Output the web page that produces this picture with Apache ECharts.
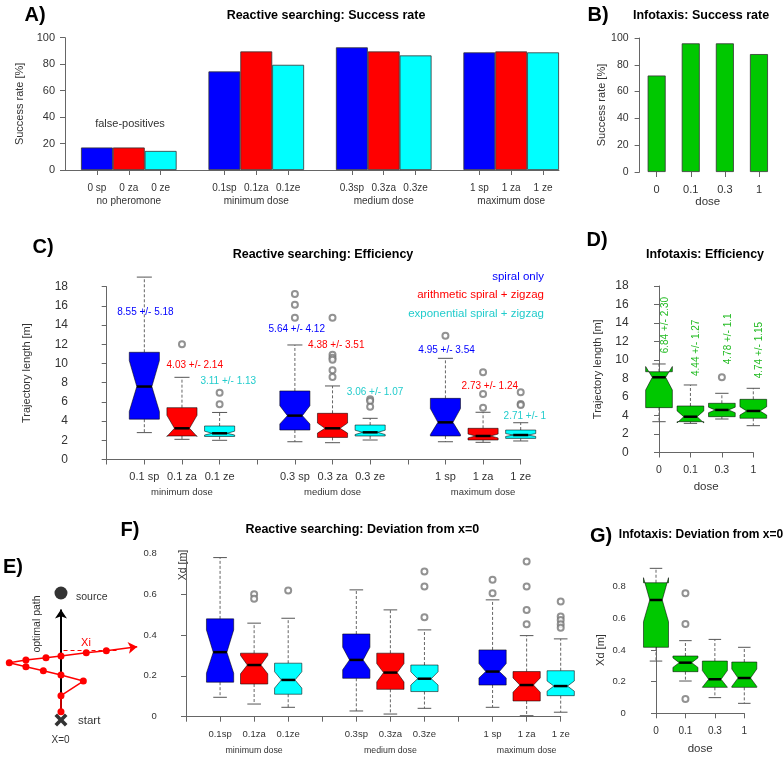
<!DOCTYPE html>
<html><head><meta charset="utf-8">
<script src="https://cdn.jsdelivr.net/npm/echarts@6/dist/echarts.min.js"></script>
<style>html,body{margin:0;padding:0;background:#fff}#c{width:784px;height:759px}</style>
</head><body><div id="c"></div>
<script>
// ================= DATA =================
// Panel A: success rate (reactive searching)
const successCats = ['0 sp','0 za','0 ze','','0.1sp','0.1za','0.1ze','','0.3sp','0.3za','0.3ze','','1 sp','1 za','1 ze'];
const successGroups = ['no pheromone','minimum dose','medium dose','maximum dose'];
const successSp = [17, 74.5, 92.7, 88.9];
const successZa = [17, 89.6, 89.6, 89.6];
const successZe = [14.4, 79.5, 86.6, 88.9];
// Panel B: infotaxis success rate
const infoDose = ['0','0.1','0.3','1'];
const infoSuccess = [72, 96, 96, 88];
// Panel C: efficiency boxes [low, q1, notchLo, median, notchHi, q3, high]
const effCats = ['','0.1 sp','0.1 za','0.1 ze','','0.3 sp','0.3 za','0.3 ze','','1 sp','1 za','1 ze'];
const doseGroups = ['minimum dose','medium dose','maximum dose'];
const effSp = [[2.8,4.2,5.0,7.6,10.3,11.17,19.0],[1.85,3.07,3.7,4.57,5.6,7.14,11.93],[1.85,2.45,2.6,3.87,5.3,6.37,10.54]];
const effZa = [[2.1,2.45,2.4,3.25,4.6,5.4,8.56],[1.75,2.3,2.75,3.25,3.8,4.81,7.66],[1.79,2.03,2.25,2.45,2.65,3.25,4.92]];
const effZe = [[2.0,2.4,2.55,2.73,2.95,3.49,4.9],[2.03,2.45,2.6,2.83,3.05,3.59,4.29],[1.93,2.2,2.4,2.55,2.7,3.07,3.83]];
const effOutSp = [[],[17.24,16.13,14.77],[18.8,12.9]];
const effOutZa = [[12.0],[14.77,10.9,10.6,10.4,9.3,8.6],[9.08,6.82,5.4]];
const effOutZe = [[6.95,5.75],[6.27,6.1,5.5],[7.0,5.78,5.68]];
const effTextSp = ['8.55 +/- 5.18','5.64 +/- 4.12','4.95 +/- 3.54'];
const effTextZa = ['4.03 +/- 2.14','4.38 +/- 3.51','2.73 +/- 1.24'];
const effTextZe = ['3.11 +/- 1.13','3.06 +/- 1.07','2.71 +/- 1'];
const effTextAtSp = [[1.03,15.3],[5.05,13.56],[9.03,11.33]];
const effTextAtZa = [[2.34,9.81],[6.1,11.9],[10.18,7.66]];
const effTextAtZe = [[3.23,8.18],[7.13,6.96],[11.11,4.46]];
const legendTexts = ['spiral only','arithmetic spiral + zigzag','exponential spiral + zigzag'];
// Panel D: infotaxis efficiency
const infoEff = [[3.33,4.85,6.76,8.13,9.3,8.73,9.57],[3.15,3.33,3.2,3.87,4.5,5.03,7.3],[3.62,3.87,4.3,4.6,4.9,5.32,6.4],[2.9,3.7,4.05,4.49,4.95,5.75,6.94]];
const infoEffOut = [[],[],[8.13],[]];
const infoEffText = ['6.84 +/- 2.30','4.44 +/- 1.27','4.78 +/- 1.1','4.74 +/- 1.15'];
const infoEffTextAt = [10.72, 8.27, 9.54, 8.02];
// Panel F: deviation (reactive)
const devCats = ['','0.1sp','0.1za','0.1ze','','0.3sp','0.3za','0.3ze','','1 sp','1 za','1 ze'];
const devSp = [[0.095,0.169,0.213,0.316,0.425,0.479,0.779],[0.028,0.188,0.23,0.278,0.34,0.405,0.621],[0.046,0.155,0.19,0.221,0.26,0.327,0.572]];
const devZa = [[0.062,0.160,0.21,0.253,0.30,0.311,0.458],[0.013,0.134,0.17,0.216,0.26,0.311,0.523],[0.005,0.077,0.12,0.155,0.19,0.221,0.397]];
const devZe = [[0.046,0.11,0.14,0.18,0.22,0.262,0.482],[0.041,0.123,0.155,0.186,0.22,0.253,0.425],[0.022,0.103,0.125,0.15,0.175,0.225,0.381]];
const devOutSp = [[],[0.809,0.82],[0.67,0.605]];
const devOutZa = [[0.6,0.577],[],[0.76,0.637,0.523,0.453]];
const devOutZe = [[0.618],[0.711,0.637,0.487],[0.564,0.49,0.474,0.453,0.436]];
// Panel G: deviation (infotaxis)
const infoDev = [[0.33,0.417,0.579,0.716,0.857,0.825,0.916],[0.204,0.263,0.29,0.32,0.35,0.362,0.459],[0.099,0.164,0.165,0.215,0.27,0.33,0.467],[0.063,0.164,0.17,0.223,0.28,0.324,0.417]];
const infoDevOut = [[],[0.758,0.564,0.09],[],[]];
// Panel E: schematic path (units: source distance = 1)
const pathX = [0, 0, 0.176, 0, -0.139, -0.276, -0.407, -0.276, -0.118, 0, 0.199, 0.357];
const pathY = [0.065, 0.191, 0.307, 0.354, 0.388, 0.42, 0.451, 0.472, 0.49, 0.504, 0.53, 0.546];
const arrowTip = [0.6, 0.577];
const sourcePt = [0, 1];
const startPt = [0, 0];
const xiLevel = 0.546;

// ================= STYLE =================
const FONT = "'Liberation Sans', Arial, Helvetica, sans-serif";
const BLUE = '#0000FF', RED = '#FF0000', CYAN = '#00FFFF', GREEN = '#00C800';
const AX = '#666', TX = '#333';
const COLS = [BLUE, RED, CYAN];

function boxRender(wex) {
  return function (params, api) {
    const x = api.value(0);
    const low = api.value(1), q1 = api.value(2), nlo = api.value(3), med = api.value(4),
          nhi = api.value(5), q3 = api.value(6), high = api.value(7);
    const px = api.coord([x, med])[0];
    const w = api.size([1, 0])[0] * wex / 2;
    const Y = v => api.coord([x, v])[1];
    const col = api.visual('color');
    const dash = { stroke: '#666', lineWidth: 1, lineDash: [3, 2], fill: null };
    const solid = { stroke: '#555', lineWidth: 1, fill: null };
    return { type: 'group', children: [
      { type: 'line', shape: { x1: px, y1: Y(q3), x2: px, y2: Y(high) }, style: dash },
      { type: 'line', shape: { x1: px, y1: Y(q1), x2: px, y2: Y(low) }, style: dash },
      { type: 'line', shape: { x1: px - w / 2, y1: Y(high), x2: px + w / 2, y2: Y(high) }, style: solid },
      { type: 'line', shape: { x1: px - w / 2, y1: Y(low), x2: px + w / 2, y2: Y(low) }, style: solid },
      { type: 'polygon', shape: { points: [
          [px - w, Y(q1)], [px + w, Y(q1)], [px + w, Y(nlo)], [px + w / 2, Y(med)], [px + w, Y(nhi)],
          [px + w, Y(q3)], [px - w, Y(q3)], [px - w, Y(nhi)], [px - w / 2, Y(med)], [px - w, Y(nlo)] ] },
        style: { fill: col, stroke: 'rgba(0,0,0,0.55)', lineWidth: 1 } },
      { type: 'line', shape: { x1: px - w / 2, y1: Y(med), x2: px + w / 2, y2: Y(med) }, style: { stroke: '#000', lineWidth: 2.5 } }
    ] };
  };
}

function groupedBoxes(lists, startOffset) {
  const out = [];
  lists.forEach((arr, k) => arr.forEach((s, g) => out.push({ value: [4 * g + startOffset + k].concat(s), itemStyle: { color: COLS[k] } })));
  return out;
}
function groupedOutliers(lists, startOffset) {
  const out = [];
  lists.forEach((arr, k) => arr.forEach((vals, g) => vals.forEach(v => out.push([4 * g + startOffset + k, v]))));
  return out;
}
function yAx(grid, min, max, interval, offset, fs, margin, name, nameGap) {
  return {
    gridIndex: grid, type: 'value', min: min, max: max, interval: interval, offset: offset,
    axisLine: { show: true, lineStyle: { color: AX } },
    axisTick: { show: true, length: 5, lineStyle: { color: AX } },
    axisLabel: { fontSize: fs, color: TX, margin: margin, fontFamily: FONT },
    splitLine: { show: false },
    name: name || '', nameLocation: 'middle', nameGap: nameGap || 30,
    nameTextStyle: { fontSize: 11, color: TX, fontFamily: FONT }
  };
}
function xValAx(grid, max, cats, fs, margin, offset) {
  return {
    gridIndex: grid, type: 'value', min: 0, max: max, interval: 1, offset: offset,
    axisLine: { show: true, lineStyle: { color: AX } },
    axisTick: { show: true, length: 5, lineStyle: { color: AX } },
    splitLine: { show: false },
    axisLabel: { margin: margin, showMinLabel: true, showMaxLabel: true, hideOverlap: false,
      fontSize: fs, color: TX, fontFamily: FONT, formatter: v => cats[v] || '' }
  };
}
// secondary axis carrying only the dose-group names under the middle box of each group
function groupAx(grid, groups, fs, margin, offset) {
  return {
    gridIndex: grid, type: 'value', min: 0, max: 11, interval: 1, offset: offset, position: 'bottom',
    axisLine: { show: false }, axisTick: { show: false }, splitLine: { show: false },
    axisLabel: { margin: margin, showMinLabel: true, showMaxLabel: true, hideOverlap: false,
      fontSize: fs, color: TX, fontFamily: FONT, formatter: v => (v % 4 === 2 ? groups[(v - 2) / 4] : '') }
  };
}
function textRender(items, rotate) {
  return function (params, api) {
    const it = items[params.dataIndex];
    const p = api.coord([api.value(0), api.value(1)]);
    return { type: 'text', x: p[0] + (rotate ? 6 : 0), y: p[1], rotation: rotate ? Math.PI / 2 : 0,
      style: { text: it.text, fill: it.color, font: (it.size || 10) + 'px ' + FONT,
        align: rotate ? 'left' : 'center', verticalAlign: 'middle', textAlign: rotate ? 'left' : 'center', textVerticalAlign: 'middle' } };
  };
}
function txt(x, y, s, o) {
  o = o || {};
  return { type: 'text', x: x, y: y, rotation: o.rot || 0, silent: true,
    style: { text: s, fill: o.color || '#000', font: (o.bold ? 'bold ' : '') + (o.size || 12) + 'px ' + FONT,
      align: o.align || 'center', verticalAlign: 'middle', textAlign: o.align || 'center', textVerticalAlign: 'middle' } };
}

// ---- derived data ----
function barSlot(vals) { const a = new Array(successCats.length).fill(null); vals.forEach((v, g) => a[4 * g] = v); return a; }
const barSp = barSlot(successSp);
const barZa = [null].concat(barSlot(successZa)).slice(0, 15);
const barZe = [null, null].concat(barSlot(successZe)).slice(0, 15);

const effNotes = [];
[[effTextSp, effTextAtSp, BLUE], [effTextZa, effTextAtZa, RED], [effTextZe, effTextAtZe, '#22CCCC']].forEach(([t, at, c]) =>
  t.forEach((s, i) => effNotes.push({ text: s, pos: at[i], color: c })));
const infoNotes = infoEffText.map((s, i) => ({ text: s, pos: [i, infoEffTextAt[i]], color: '#22BB22' }));

const chart = echarts.init(document.getElementById('c'), null, { renderer: 'canvas' });
const opt = {
  animation: false,
  textStyle: { fontFamily: FONT },
  grid: [
    { left: 81, top: 37.7, width: 478, height: 132.3 },     // A
    { left: 639.6, top: 38, width: 136.4, height: 134 },     // B
    { left: 106.7, top: 286.7, width: 414, height: 172.8 },  // C
    { left: 659, top: 286, width: 94.3, height: 166.5 },     // D
    { left: 186, top: 553.3, width: 374.7, height: 163.4 },  // F
    { left: 656, top: 586.7, width: 88.3, height: 126.6 },   // G
    { left: 0, top: 580.3, width: 162.6, height: 152.4 }     // E
  ],
  xAxis: [
    { gridIndex: 0, type: 'category', data: successCats,
      axisLine: { show: true, lineStyle: { color: AX } },
      axisTick: { show: true, alignWithLabel: true, length: 5, lineStyle: { color: AX }, interval: (i, v) => v !== '' },
      axisLabel: { interval: 0, margin: 12,
        formatter: (v, i) => v === '' ? '' : (i % 4 === 1 ? '{a|' + v + '}\n{a|' + successGroups[(i - 1) / 4] + '}' : '{a|' + v + '}'),
        rich: { a: { fontSize: 10, color: TX, fontFamily: FONT, lineHeight: 13 } } } },
    { gridIndex: 1, type: 'category', data: infoDose,
      axisLine: { show: false },
      axisTick: { show: true, alignWithLabel: true, length: 5, lineStyle: { color: AX } },
      axisLabel: { fontSize: 11, color: TX, margin: 12, fontFamily: FONT },
      name: 'dose', nameLocation: 'middle', nameGap: 24, nameTextStyle: { fontSize: 11.5, color: TX, fontFamily: FONT } },
    xValAx(2, 11, effCats, 11, 10, 2),
    Object.assign(xValAx(3, 3, infoDose, 10.5, 11, 1.5),
      { name: 'dose', nameLocation: 'middle', nameGap: 27, nameTextStyle: { fontSize: 11.5, color: TX, fontFamily: FONT } }),
    xValAx(4, 11, devCats, 9.5, 10, 2.6),
    Object.assign(xValAx(5, 3, infoDose, 10, 11, 1.7),
      { name: 'dose', nameLocation: 'middle', nameGap: 28, nameTextStyle: { fontSize: 11.5, color: TX, fontFamily: FONT } }),
    { gridIndex: 6, type: 'value', min: -0.48, max: 0.8, show: false },
    groupAx(2, doseGroups, 9.5, 26, 2),
    groupAx(4, doseGroups, 8.8, 27, 2.6)
  ],
  yAxis: [
    yAx(0, 0, 100, 20, 16, 11, 10, 'Success rate [%]', 37),
    yAx(1, 0, 100, 20, 0, 10.5, 11, 'Success rate [%]', 30),
    yAx(2, 0, 18, 2, 26.7, 12, 12, 'Trajectory length [m]', 48),
    yAx(3, 0, 18, 2, 22.3, 12, 8, 'Trajectory length [m]', 33),
    yAx(4, 0, 0.8, 0.2, 19.3, 9.5, 10, '', 30),
    yAx(5, 0, 0.8, 0.2, 19.3, 9.5, 11, 'Xd [m]', 30),
    { gridIndex: 6, type: 'value', min: -0.1, max: 1.1, show: false }
  ],
  series: [
    // A bars
    { type: 'bar', xAxisIndex: 0, yAxisIndex: 0, data: barSp, barWidth: '100%', barGap: '-100%', itemStyle: { color: BLUE, borderColor: '#333', borderWidth: 0.8 } },
    { type: 'bar', xAxisIndex: 0, yAxisIndex: 0, data: barZa, barWidth: '100%', barGap: '-100%', itemStyle: { color: RED, borderColor: '#333', borderWidth: 0.8 } },
    { type: 'bar', xAxisIndex: 0, yAxisIndex: 0, data: barZe, barWidth: '100%', barGap: '-100%', itemStyle: { color: CYAN, borderColor: '#333', borderWidth: 0.8 } },
    // B bars
    { type: 'bar', xAxisIndex: 1, yAxisIndex: 1, data: infoSuccess, barWidth: 18, itemStyle: { color: GREEN, borderColor: '#333', borderWidth: 0.8 } },
    // C boxes
    { type: 'custom', xAxisIndex: 2, yAxisIndex: 2, renderItem: boxRender(0.8), data: groupedBoxes([effSp, effZa, effZe], 1), clip: false },
    { type: 'scatter', xAxisIndex: 2, yAxisIndex: 2, data: groupedOutliers([effOutSp, effOutZa, effOutZe], 1), symbol: 'emptyCircle', symbolSize: 6, itemStyle: { color: '#777', borderWidth: 1 } },
    { type: 'custom', xAxisIndex: 2, yAxisIndex: 2, renderItem: textRender(effNotes, false), data: effNotes.map(n => n.pos), clip: false, silent: true },
    // D boxes
    { type: 'custom', xAxisIndex: 3, yAxisIndex: 3, renderItem: boxRender(0.85), data: infoEff.map((s, i) => ({ value: [i].concat(s), itemStyle: { color: GREEN } })), clip: false },
    { type: 'scatter', xAxisIndex: 3, yAxisIndex: 3, data: [].concat(...infoEffOut.map((vals, i) => vals.map(v => [i, v]))), symbol: 'emptyCircle', symbolSize: 6, itemStyle: { color: '#777', borderWidth: 1 } },
    { type: 'custom', xAxisIndex: 3, yAxisIndex: 3, renderItem: textRender(infoNotes, true), data: infoNotes.map(n => n.pos), clip: false, silent: true },
    // F boxes
    { type: 'custom', xAxisIndex: 4, yAxisIndex: 4, renderItem: boxRender(0.8), data: groupedBoxes([devSp, devZa, devZe], 1), clip: false },
    { type: 'scatter', xAxisIndex: 4, yAxisIndex: 4, data: groupedOutliers([devOutSp, devOutZa, devOutZe], 1), symbol: 'emptyCircle', symbolSize: 6, itemStyle: { color: '#777', borderWidth: 1 } },
    // G boxes
    { type: 'custom', xAxisIndex: 5, yAxisIndex: 5, renderItem: boxRender(0.85), data: infoDev.map((s, i) => ({ value: [i].concat(s), itemStyle: { color: GREEN } })), clip: false },
    { type: 'scatter', xAxisIndex: 5, yAxisIndex: 5, data: [].concat(...infoDevOut.map((vals, i) => vals.map(v => [i, v]))), symbol: 'emptyCircle', symbolSize: 6, itemStyle: { color: '#777', borderWidth: 1 } },
    // E schematic
    { type: 'lines', coordinateSystem: 'cartesian2d', xAxisIndex: 6, yAxisIndex: 6, polyline: false,
      data: [{ coords: [[startPt[0], 0.06], [sourcePt[0], 0.87]] }], symbol: ['none', 'arrow'], symbolSize: 9,
      lineStyle: { color: '#000', width: 2, opacity: 1 }, silent: true },
    { type: 'lines', coordinateSystem: 'cartesian2d', xAxisIndex: 6, yAxisIndex: 6,
      data: [{ coords: [[pathX[pathX.length - 1], pathY[pathY.length - 1]], arrowTip] }], symbol: ['none', 'arrow'], symbolSize: 9,
      lineStyle: { color: RED, width: 1.5, opacity: 1 }, silent: true },
    { type: 'lines', coordinateSystem: 'cartesian2d', xAxisIndex: 6, yAxisIndex: 6,
      data: [{ coords: [[0.02, xiLevel], [0.44, xiLevel]] }], symbol: ['none', 'none'],
      lineStyle: { color: RED, width: 1, type: [4, 3], opacity: 1 }, silent: true },
    { type: 'line', xAxisIndex: 6, yAxisIndex: 6, data: pathX.map((x, i) => [x, pathY[i]]), symbol: 'circle', symbolSize: 7,
      lineStyle: { color: RED, width: 1.5 }, itemStyle: { color: RED }, silent: true },
    { type: 'scatter', xAxisIndex: 6, yAxisIndex: 6, data: [sourcePt], symbol: 'circle', symbolSize: 13, itemStyle: { color: '#000' }, silent: true },
    { type: 'scatter', xAxisIndex: 6, yAxisIndex: 6, data: [startPt], symbol: 'path://M0,2L2,0L5,3L8,0L10,2L7,5L10,8L8,10L5,7L2,10L0,8L3,5Z', symbolSize: 13, itemStyle: { color: '#000' }, silent: true }
  ],
  graphic: [
    // baseline extension of panel A's axis line to its y axis
    { type: 'line', silent: true, shape: { x1: 65, y1: 170.5, x2: 81, y2: 170.5 }, style: { stroke: AX, lineWidth: 1 } },
    txt(35, 15, 'A)', { bold: true, size: 20 }),
    txt(326, 16, 'Reactive searching: Success rate', { bold: true, size: 12.5 }),
    txt(130, 124, 'false-positives', { size: 11, color: TX }),
    txt(598, 15, 'B)', { bold: true, size: 20 }),
    txt(701, 16, 'Infotaxis: Success rate', { bold: true, size: 12.5 }),
    txt(43, 247, 'C)', { bold: true, size: 20 }),
    txt(323, 254.3, 'Reactive searching: Efficiency', { bold: true, size: 12.5 }),
    txt(544, 276.7, legendTexts[0], { size: 11.5, color: BLUE, align: 'right' }),
    txt(544, 295, legendTexts[1], { size: 11.5, color: RED, align: 'right' }),
    txt(544, 314.3, legendTexts[2], { size: 11.5, color: '#22CCCC', align: 'right' }),
    txt(597, 240, 'D)', { bold: true, size: 20 }),
    txt(705, 254.3, 'Infotaxis: Efficiency', { bold: true, size: 12.5 }),
    txt(13, 567, 'E)', { bold: true, size: 20 }),
    txt(76, 597.3, 'source', { size: 10.5, color: TX, align: 'left' }),
    txt(78, 721, 'start', { size: 11.5, color: TX, align: 'left' }),
    txt(60.5, 740.7, 'X=0', { size: 10, color: TX }),
    txt(86, 643.3, 'Xi', { size: 11, color: RED }),
    txt(37.3, 624, 'optimal path', { size: 10.5, color: TX, rot: Math.PI / 2 }),
    txt(130, 530, 'F)', { bold: true, size: 20 }),
    txt(362.3, 529.3, 'Reactive searching: Deviation from x=0', { bold: true, size: 12.5 }),
    txt(182.7, 565, 'Xd [m]', { size: 10.5, color: TX, rot: Math.PI / 2 }),
    txt(601, 536, 'G)', { bold: true, size: 20 }),
    txt(701, 534.3, 'Infotaxis: Deviation from x=0', { bold: true, size: 12 })
  ]
};
chart.setOption(opt);
</script></body></html>
